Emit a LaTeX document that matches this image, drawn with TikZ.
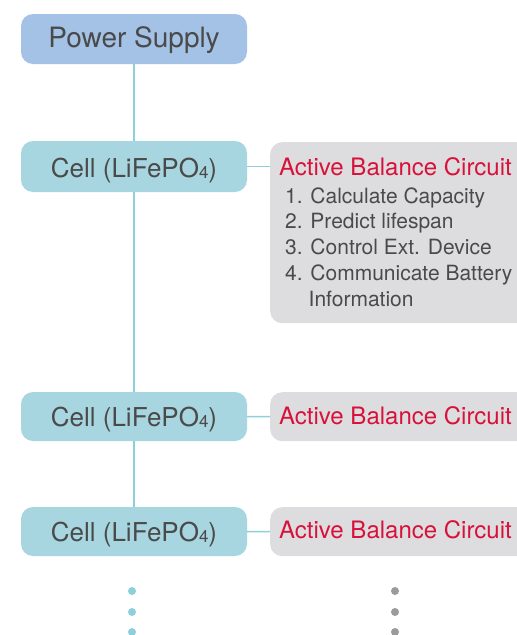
\documentclass[tikz,border=0pt]{standalone}
\usepackage{fontspec}
\setmainfont{TeX Gyre Heros}
\definecolor{psfill}{HTML}{A3C2E6}
\definecolor{cellfill}{HTML}{A8D6E0}
\definecolor{linec}{HTML}{8ECFDC}
\definecolor{grayfill}{HTML}{DDDDDF}
\definecolor{redtxt}{HTML}{D8113A}
\definecolor{txt}{HTML}{4A4A4A}
\definecolor{dotgray}{HTML}{9B9B9B}
\newcommand{\subfour}{\raisebox{-1pt}{\fontsize{17}{17}\selectfont 4}}
\begin{document}
\begin{tikzpicture}[x=1pt,y=-1pt,
  box/.style={rounded corners=12pt, minimum width=226pt, inner sep=0pt, draw=none},
  psbox/.style={box, fill=psfill, minimum height=50pt},
  cellbox/.style={box, fill=cellfill, minimum height=50pt},
  abbox/.style={rounded corners=12pt, fill=grayfill, inner sep=0pt, anchor=north west, minimum width=270pt},
  wire/.style={draw=linec, line width=1.5pt},
  pstxt/.style={inner sep=0pt, anchor=base, text=txt, font=\fontsize{28}{28}\selectfont},
  celltxt/.style={inner sep=0pt, anchor=base, text=txt, font=\fontsize{26}{26}\selectfont},
  abtitle/.style={inner sep=0pt, anchor=base west, text=redtxt, font=\fontsize{24}{24}\selectfont},
  abitem/.style={inner sep=0pt, anchor=base west, text=txt, font=\fontsize{21}{21}\selectfont},
  cdot/.style={circle, fill=linec, inner sep=0pt, minimum size=8pt},
  gdot/.style={circle, fill=dotgray, inner sep=0pt, minimum size=8pt}
]
\useasboundingbox (0,0) rectangle (517,635);
\clip (0,0) rectangle (517,635);
% boxes
\node[psbox] (ps) at (134,39) {};
\node[cellbox, minimum height=51pt] (c1) at (134,166.5) {};
\node[cellbox, minimum height=49pt] (c2) at (134,416.5) {};
\node[cellbox, minimum height=49pt] (c3) at (134,531.5) {};
\node[abbox, minimum height=181pt] (ab1) at (270,142) {};
\node[abbox, minimum height=49pt] (ab2) at (270,392) {};
\node[abbox, minimum height=49pt] (ab3) at (270,507) {};
% connectors
\draw[wire] (ps.south) -- (c1.north);
\draw[wire] (c1.south) -- (c2.north);
\draw[wire] (c2.south) -- (c3.north);
\draw[wire] (c1.east) -- (c1.east -| ab1.west);
\draw[wire] (c2.east) -- (ab2.west);
\draw[wire] (c3.east) -- (ab3.west);
% texts
\node[pstxt] (pst) at (134,47) {Power Supply};
\node[celltxt] (c1t) at (134,177) {Cell (LiFePO\subfour)};
\node[celltxt] (c2t) at (134,426) {Cell (LiFePO\subfour)};
\node[celltxt] (c3t) at (134,541) {Cell (LiFePO\subfour)};
\node[abtitle] (ab1t) at (279,175) {Active Balance Circuit};
\node[abitem] (l1) at (285,203) {1. Calculate Capacity};
\node[abitem] (l2) at (285,228.5) {2. Predict lifespan};
\node[abitem] (l3) at (285,254) {3. Control Ext. Device};
\node[abitem] (l4) at (285,280) {4. Communicate Battery};
\node[abitem] (l5) at (308.5,306) {Information};
\node[abtitle] (ab2t) at (279,424) {Active Balance Circuit};
\node[abtitle] (ab3t) at (279,538) {Active Balance Circuit};
% dots
\node[cdot] (cd1) at (132,591) {};
\node[cdot] (cd2) at (132,612) {};
\node[cdot] (cd3) at (132,632) {};
\node[gdot] (gd1) at (395,591) {};
\node[gdot] (gd2) at (395,612) {};
\node[gdot] (gd3) at (395,632) {};
\end{tikzpicture}
\end{document}
